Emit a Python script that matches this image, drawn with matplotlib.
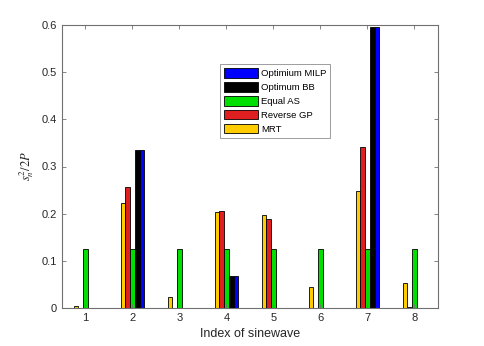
import matplotlib
matplotlib.use("Agg")
import matplotlib.pyplot as plt
import numpy as np

plt.rcParams['font.family'] = ['Liberation Sans', 'DejaVu Sans']
plt.rcParams['mathtext.fontset'] = 'stix'

indices = [1, 2, 3, 4, 5, 6, 7, 8]
series_names = ["MRT", "Reverse GP", "Equal AS", "Optimum BB", "Optimium MILP"]
mrt = [0.005, 0.222, 0.023, 0.204, 0.197, 0.045, 0.248, 0.054]
reverse_gp = [0.001, 0.257, 0.0, 0.205, 0.188, 0.0, 0.342, 0.003]
equal_as = [0.125, 0.125, 0.125, 0.125, 0.125, 0.125, 0.125, 0.125]
optimum_bb = [0.0, 0.336, 0.0, 0.068, 0.0, 0.0, 0.596, 0.0]
optimum_milp = [0.0, 0.336, 0.0, 0.068, 0.0, 0.0, 0.596, 0.0]
colors = ["#ffcc00", "#e02020", "#00e000", "#000000", "#0000ff"]

data = [mrt, reverse_gp, equal_as, optimum_bb, optimum_milp]

fig = plt.figure(figsize=(4.85, 3.46), dpi=100)
ax = fig.add_axes([62/485, 1-308/346, 376/485, 283/346])

w = 0.1
x = np.array(indices, dtype=float)
handles = []
for i, (vals, c, name) in enumerate(zip(data, colors, series_names)):
    h = ax.bar(x + (i - 2) * w, vals, width=w, color=c, edgecolor='black',
               linewidth=0.6, label=name)
    handles.append(h)

ax.set_xlim(0.5, 8.5)
ax.set_ylim(0, 0.6)
ax.set_xticks(indices)
ax.set_yticks([0, 0.1, 0.2, 0.3, 0.4, 0.5, 0.6])
ax.set_yticklabels(['0', '0.1', '0.2', '0.3', '0.4', '0.5', '0.6'])
axc = '#707070'
for s in ax.spines.values():
    s.set_color(axc)
    s.set_linewidth(0.8)
ax.tick_params(direction='in', top=True, right=True, length=3, width=0.6,
               colors=axc, labelcolor='#262626', labelsize=8)
ax.set_xlabel("Index of sinewave", fontsize=9, color='#262626')
ax.set_ylabel(r"$s_n^2/2P$", fontsize=9, color='#262626')

leg = ax.legend(handles[::-1], series_names[::-1], loc='upper left',
                bbox_to_anchor=(0.42, 0.862), fontsize=6.8, frameon=True,
                fancybox=False, edgecolor='#707070', handlelength=3.6,
                handleheight=1.2, borderpad=0.4, labelspacing=0.42,
                handletextpad=0.35, borderaxespad=0)
leg.get_frame().set_linewidth(0.6)

fig.savefig("out.png", dpi=100)
